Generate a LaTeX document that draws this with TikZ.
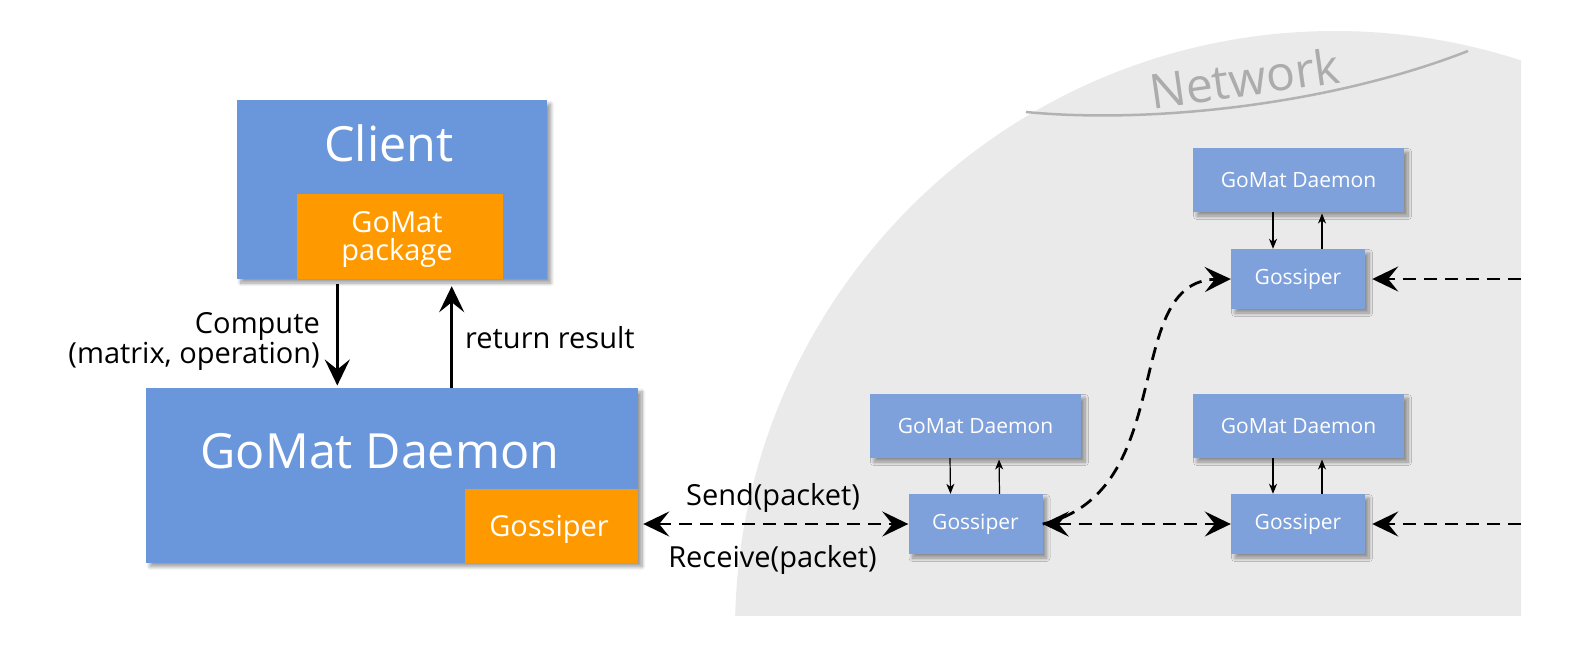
\documentclass[tikz,border=0pt]{standalone}
\usepackage{fontspec}
\setmainfont{Open Sans}
\usetikzlibrary{arrows.meta,shadows.blur}
\definecolor{bigblue}{RGB}{106,150,220}
\definecolor{smallblue}{RGB}{126,161,219}
\definecolor{gorange}{RGB}{255,153,0}
\definecolor{netgray}{RGB}{234,234,234}
\definecolor{netline}{RGB}{178,178,178}
\definecolor{nettext}{RGB}{172,172,172}
\begin{document}
\begin{tikzpicture}[x=1pt,y=-1pt,
  boxshadow/.style={blur shadow={shadow xshift=4pt,shadow yshift=-4pt,shadow blur radius=3.5pt,shadow blur steps=10,shadow opacity=40}},
  bigbox/.style={rectangle,fill=bigblue,inner sep=0pt,boxshadow},
  orangebox/.style={rectangle,fill=gorange,inner sep=0pt},
  smalldaemon/.style={rectangle,fill=smallblue,inner sep=0pt,minimum width=211pt,minimum height=64pt,boxshadow,text=white,font=\fontsize{21}{25}\selectfont},
  smallgos/.style={rectangle,fill=smallblue,inner sep=0pt,minimum width=134pt,minimum height=60pt,boxshadow,text=white,font=\fontsize{21}{25}\selectfont},
  medfont/.style={inner sep=0pt,font=\fontsize{29}{27.7}\selectfont},
  bigfont/.style={inner sep=0pt,text=white,font=\fontsize{48.5}{58}\selectfont},
  bigtip/.tip={Stealth[length=26pt,width=25pt,inset=10pt]},
  solidarrow/.style={line width=2.7pt,-bigtip},
  dasharrow/.style={line width=2.8pt,dash pattern=on 13pt off 8pt},
  thinarrow/.style={line width=1.2pt,-{Stealth[length=10pt,width=8pt,inset=3pt]}},
]
\useasboundingbox (0,0) rectangle (1578,645);
% network region
\begin{scope}
  \clip (0,0) rectangle (1521,615);
  \fill[netgray] (1335,631) circle[radius=600];
\end{scope}
\draw[netline,line width=2.5pt] (1026,112) .. controls (1150,124) and (1330,105) .. (1468,51);
\node[text=nettext,anchor=base,rotate=8,inner sep=0pt,font=\fontsize{48}{58}\selectfont] (netlbl) at (1247,96) {Network};

% client
\node[bigbox,minimum width=310pt,minimum height=179pt] (clientbox) at (391.7,189.5) {};
\node[bigfont,anchor=base] (clientlbl) at (389,161.7) {Client};
\node[orangebox,minimum width=206pt,minimum height=85pt] (pkgbox) at (399.7,236.5) {};
\node[medfont,text=white,align=center] (pkglbl) at (397,239.8) {GoMat\\package};

% daemon
\node[bigbox,minimum width=492pt,minimum height=175pt] (daemonbox) at (392,475.2) {};
\node[bigfont,anchor=base] (daemonlbl) at (380,468.3) {GoMat Daemon};
\node[orangebox,minimum width=173pt,minimum height=73.7pt] (gosorange) at (551.5,525.8) {};
\node[medfont,text=white,anchor=base] (goslbl) at (549,536) {Gossiper};

% client <-> daemon arrows
\draw[solidarrow,shorten <=5pt,shorten >=2pt] ([xshift=-54.4pt]clientbox.south) -- ([xshift=-54.7pt]daemonbox.north);
\draw[solidarrow,shorten >=7pt] ([xshift=59.7pt]daemonbox.north) -- ([xshift=60pt]clientbox.south);
\node[medfont,align=right,anchor=east] (computelbl) at (320,341.5) {Compute\\(matrix, operation)};
\node[medfont,anchor=base west] (returnlbl) at (465,348) {return result};

% network nodes
\node[smalldaemon] (d1) at (975.5,426) {GoMat Daemon};
\node[smallgos] (g1) at (975.5,524) {Gossiper};
\node[smalldaemon] (d2) at (1298.5,180) {GoMat Daemon};
\node[smallgos] (g2) at (1298,279) {Gossiper};
\node[smalldaemon] (d3) at (1298.5,426) {GoMat Daemon};
\node[smallgos] (g3) at (1298,524) {Gossiper};

\foreach \d/\g in {d1/g1,d2/g2,d3/g3}{
  \draw[thinarrow] ([xshift=-25.5pt]\d.south) -- ([xshift=-25pt]\g.north);
  \draw[thinarrow,shorten >=1.3pt] ([xshift=24pt]\g.north) -- ([xshift=23.5pt]\d.south);
}

\coordinate (edge2) at (1521,279);
\coordinate (edge3) at (1521,524);

% dashed connectors
\draw[dasharrow,bigtip-bigtip,shorten <=5pt] (gosorange.east |- g1.west) -- (g1.west);
\node[medfont,anchor=base] (sendlbl) at (773,505.7) {Send(packet)};
\node[medfont,anchor=base] (recvlbl) at (772.5,567) {Receive(packet)};
\draw[dasharrow,bigtip-bigtip] (g1.east) -- (g3.west);
\draw[dasharrow,-bigtip,shorten >=7pt] (edge3) -- (g3.east);
\draw[dasharrow,-bigtip,shorten >=7pt] (edge2) -- (g2.east);
\draw[dasharrow,-bigtip] (g1.east) .. controls (1180,492) and (1120,281) .. (g2.west);
\end{tikzpicture}
\end{document}
